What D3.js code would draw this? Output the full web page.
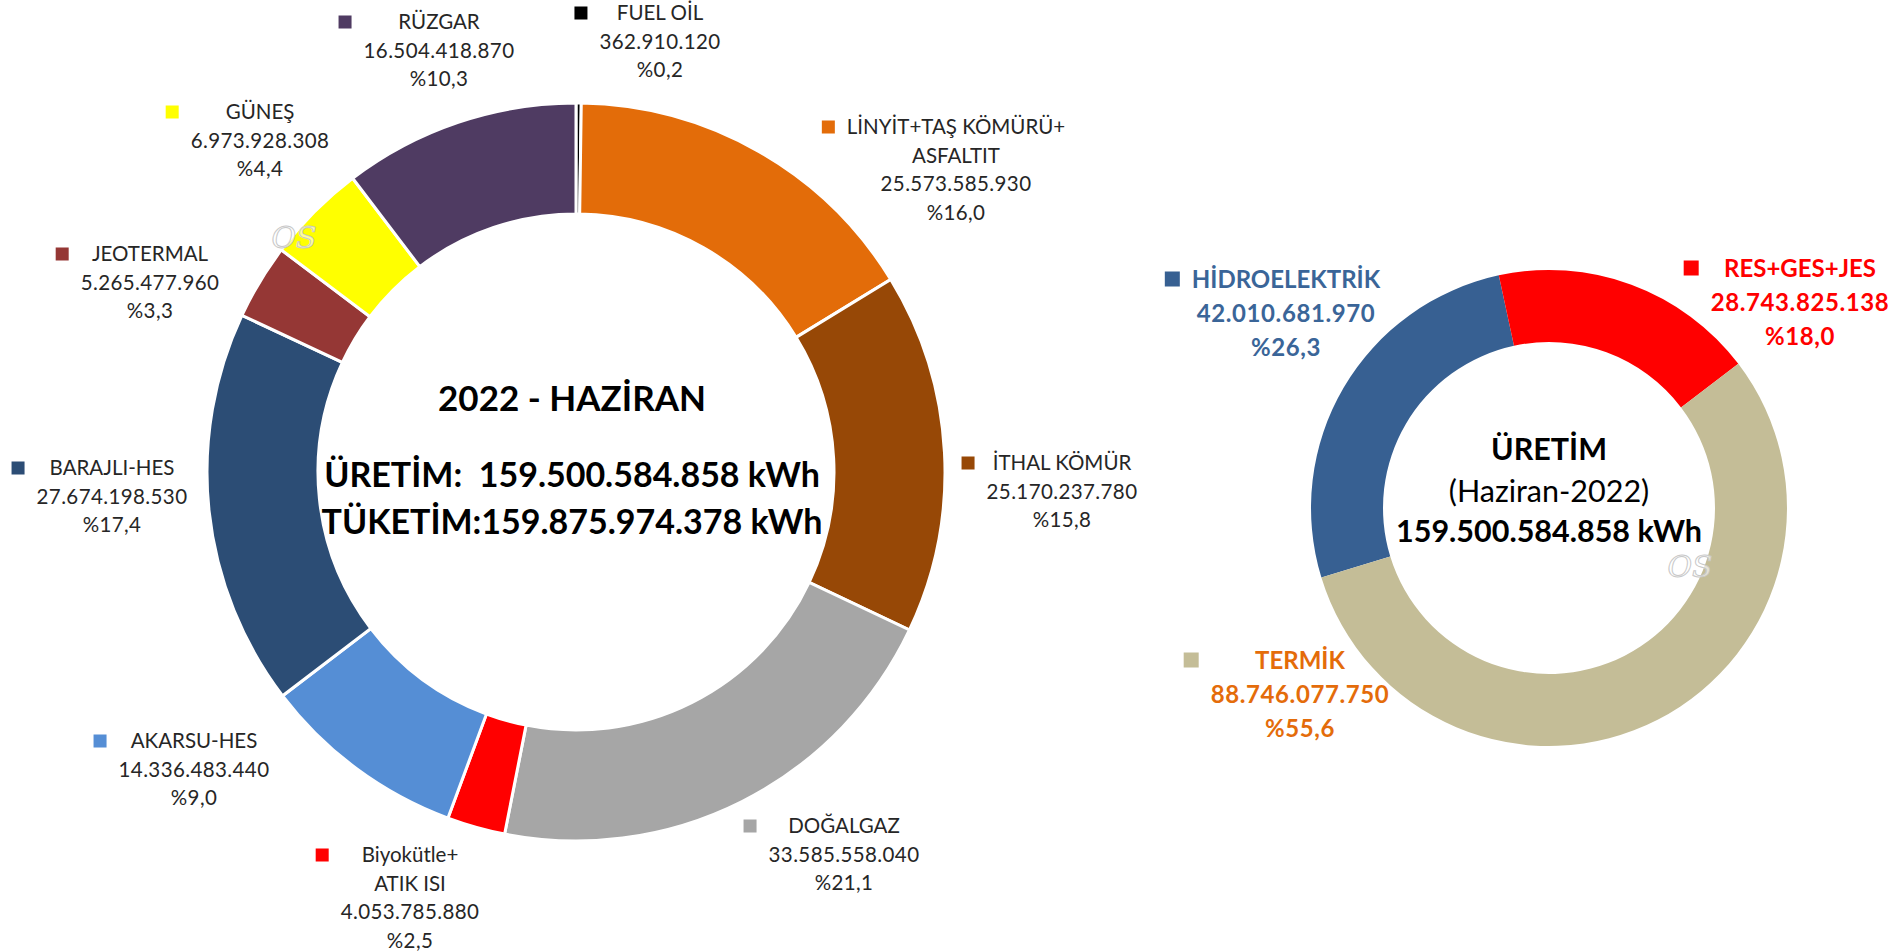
<!DOCTYPE html>
<html>
<head>
<meta charset="utf-8">
<script src="https://cdn.jsdelivr.net/npm/d3@7"></script>
<style>
  html, body { margin: 0; padding: 0; background: #fff; }
  svg { display: block; font-family: Lato, "Noto Sans", sans-serif; }
</style>
</head>
<body>
<svg id="chart" width="1897" height="951"></svg>
<script>
// production by source, clockwise from 12 o'clock
const sources = [
  "FUEL OİL", "LİNYİT+TAŞ KÖMÜRÜ+\nASFALTIT", "İTHAL KÖMÜR", "DOĞALGAZ",
  "Biyokütle+\nATIK ISI", "AKARSU-HES", "BARAJLI-HES", "JEOTERMAL", "GÜNEŞ", "RÜZGAR",
];
const sourceValues = [
  362910120, 25573585930, 25170237780, 33585558040, 4053785880,
  14336483440, 27674198530, 5265477960, 6973928308, 16504418870,
];
const sourceColors = [
  "#000000", "#e36c09", "#974806", "#a6a6a6", "#ff0000",
  "#558ed5", "#2c4d75", "#953735", "#ffff00", "#4f3b62",
];

// grouped production (right donut)
const groups = ["HİDROELEKTRİK", "RES+GES+JES", "TERMİK"];
const groupValues = [42010681970, 28743825138, 88746077750];
const groupColors = ["#376092", "#ff0000", "#c4bd97"];
const groupTextColors = ["#3a6598", "#ff0000", "#e46c0a"];

const totalProduction = 159500584858;
const totalConsumption = 159875974378;
const periodTitle = "2022 - HAZİRAN";
const periodShort = "(Haziran-2022)";

// hand placed label anchors: centre x, first line y
const sourceLabelPos = [
  [660, 13], [956, 127], [1062, 463], [844, 826], [410, 855],
  [194, 741], [112, 468], [150, 254], [260, 112], [439, 22],
];
const groupLabelPos = [[1286, 279], [1800, 268], [1300, 660]];

const loc = d3.formatLocale({ decimal: ",", thousands: ".", grouping: [3], currency: ["", ""] });
const fmtInt = loc.format(",d");
const fmtPct1 = loc.format(".1f");
const fmtPct = (v) => "%" + fmtPct1(v);

const svg = d3.select("#chart");

function drawDonut(cx, cy, values, colors, opts) {
  const g = svg.append("g").attr("transform", `translate(${cx},${cy})`);
  const pie = d3
    .pie()
    .sort(null)
    .startAngle(opts.start)
    .endAngle(opts.start + 2 * Math.PI);
  const arc = d3.arc().innerRadius(opts.inner).outerRadius(opts.outer);
  g.selectAll("path")
    .data(pie(values))
    .join("path")
    .attr("d", arc)
    .attr("fill", (d, i) => colors[i])
    .attr("stroke", opts.sep ? "#fff" : "none")
    .attr("stroke-width", opts.sep || 0);
  return g;
}

function drawLabels(names, values, keyColors, textColors, pos, opt) {
  const total = d3.sum(values);
  names.forEach((name, i) => {
    const nameLines = name.split("\n");
    const lines = nameLines.concat([fmtInt(values[i]), fmtPct((values[i] / total) * 100)]);
    const lg = svg.append("g").attr("transform", `translate(${pos[i][0]},${pos[i][1]})`);
    const t = lg
      .selectAll("text")
      .data(lines)
      .join("text")
      .attr("x", 0)
      .attr("y", (d, j) => j * opt.lineHeight)
      .attr("dy", "0.36em")
      .attr("text-anchor", "middle")
      .attr("font-size", opt.fontSize)
      .attr("font-weight", opt.weight)
      .attr("letter-spacing", (d, j) => (j >= nameLines.length ? opt.numSpacing : 0))
      .attr("fill", textColors[i])
      .text((d) => d);
    let maxW = 0;
    t.each(function () {
      maxW = Math.max(maxW, this.getComputedTextLength());
    });
    lg.append("rect")
      .attr("x", -maxW / 2 - opt.gap - opt.key)
      .attr("y", -opt.key / 2)
      .attr("width", opt.key)
      .attr("height", opt.key)
      .attr("fill", keyColors[i]);
  });
}

// left donut
const left = drawDonut(576, 472, sourceValues, sourceColors, {
  start: 0, inner: 258, outer: 369, sep: 3,
});

drawLabels(sources, sourceValues, sourceColors, sources.map(() => "#262626"), sourceLabelPos, {
  fontSize: 20.5, weight: 400, lineHeight: 28.5, key: 13, gap: 12, numSpacing: 0.4,
});

const centreLines = [
  { text: periodTitle, y: -74, size: 35 },
  { text: `ÜRETİM:  ${fmtInt(totalProduction)} kWh`, y: 3, size: 34 },
  { text: `TÜKETİM:${fmtInt(totalConsumption)} kWh`, y: 50, size: 34 },
];
left.selectAll("text.centre")
  .data(centreLines)
  .join("text")
  .attr("class", "centre")
  .attr("x", -4)
  .attr("y", (d) => d.y)
  .attr("dy", "0.36em")
  .attr("text-anchor", "middle")
  .attr("font-size", (d) => d.size)
  .attr("font-weight", 700)
  .attr("fill", "#000")
  .style("white-space", "pre")
  .text((d) => d.text);

// right donut
const right = drawDonut(1549, 508, groupValues, groupColors, {
  start: (253 * Math.PI) / 180, inner: 166, outer: 238, sep: 0,
});

drawLabels(groups, groupValues, groupColors, groupTextColors, groupLabelPos, {
  fontSize: 24, weight: 700, lineHeight: 34, key: 15, gap: 12, numSpacing: 0.6,
});

const rightLines = [
  { text: "ÜRETİM", y: -59, weight: 700 },
  { text: periodShort, y: -17, weight: 400 },
  { text: `${fmtInt(totalProduction)} kWh`, y: 23, weight: 700 },
];
right.selectAll("text.centre")
  .data(rightLines)
  .join("text")
  .attr("class", "centre")
  .attr("x", 0)
  .attr("y", (d) => d.y)
  .attr("dy", "0.36em")
  .attr("text-anchor", "middle")
  .attr("font-size", 30.5)
  .attr("font-weight", (d) => d.weight)
  .attr("fill", "#000")
  .text((d) => d.text);

// faint "OS" watermarks
[[294, 237], [1690, 566]].forEach(([x, y]) => {
  svg.append("text")
    .attr("x", x)
    .attr("y", y)
    .attr("dy", "0.36em")
    .attr("text-anchor", "middle")
    .attr("font-family", "DejaVu Serif")
    .attr("font-style", "italic")
    .attr("font-size", 30)
    .attr("fill", "#fff")
    .attr("fill-opacity", 0.6)
    .attr("stroke", "#c8c8c8")
    .attr("stroke-width", 1)
    .text("OS");
});
</script>
</body>
</html>
